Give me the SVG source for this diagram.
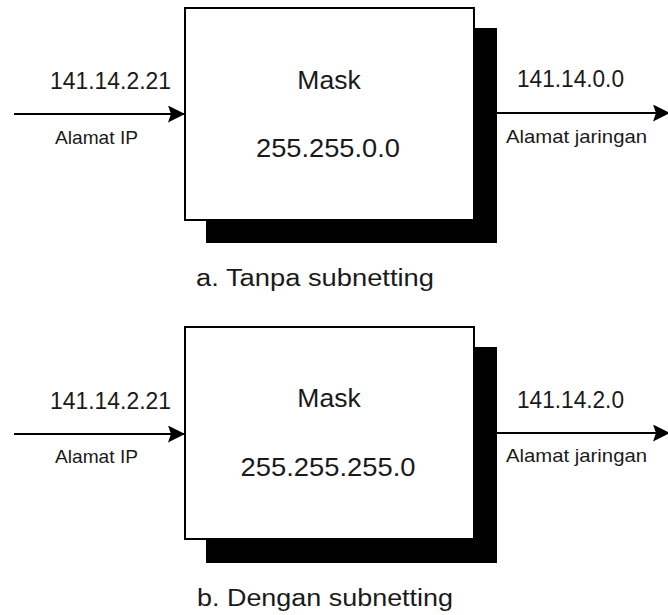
<svg xmlns="http://www.w3.org/2000/svg" width="668" height="615" viewBox="0 0 668 615">
  <defs>
    <marker id="arrow" markerWidth="17" markerHeight="17" refX="17" refY="8.5" orient="auto" markerUnits="userSpaceOnUse">
      <path d="M0,0 L17,8.5 L0,17 L3,8.5 Z" fill="#000"/>
    </marker>
    <style>
      .box { fill: #fff; stroke: #000; stroke-width: 2; }
      .shadow { fill: #000; }
      .wire { stroke: #000; stroke-width: 2.2; fill: none; }
      text { font-family: "Liberation Sans", Arial, sans-serif; fill: #1a1a1a; }
      .addr { font-size: 24.5px; }
      .lbl { font-size: 18.5px; }
      .mid { text-anchor: middle; }
      .inbox { font-size: 26.5px; }
      .cap { font-size: 23px; }
    </style>
  </defs>
  <rect width="668" height="615" fill="#fff"/>

  <!-- connectors -->
  <g id="connectors">
    <line class="wire" x1="14" y1="114" x2="185" y2="114" marker-end="url(#arrow)"/>
    <line class="wire" x1="497" y1="113" x2="670" y2="113" marker-end="url(#arrow)"/>
    <line class="wire" x1="14" y1="434" x2="185" y2="434" marker-end="url(#arrow)"/>
    <line class="wire" x1="497" y1="433" x2="670" y2="433" marker-end="url(#arrow)"/>
  </g>

  <!-- a: without subnetting -->
  <g id="mask-a">
    <rect class="shadow" x="206" y="28" width="291" height="215"/>
    <rect class="box" x="185" y="8" width="289" height="212"/>
    <text class="inbox mid" x="329" y="89">Mask</text>
    <text class="inbox mid" x="328" y="157" textLength="144" lengthAdjust="spacingAndGlyphs">255.255.0.0</text>
  </g>
  <g id="in-a">
    <text class="addr" x="50" y="89" textLength="121" lengthAdjust="spacingAndGlyphs">141.14.2.21</text>
    <text class="lbl" x="55" y="144" textLength="83" lengthAdjust="spacingAndGlyphs">Alamat IP</text>
  </g>
  <g id="out-a">
    <text class="addr" x="517" y="87" textLength="107" lengthAdjust="spacingAndGlyphs">141.14.0.0</text>
    <text class="lbl" x="506" y="143" textLength="141" lengthAdjust="spacingAndGlyphs">Alamat jaringan</text>
  </g>
  <text class="cap" x="196" y="286" textLength="238" lengthAdjust="spacingAndGlyphs">a. Tanpa subnetting</text>

  <!-- b: with subnetting -->
  <g id="mask-b">
    <rect class="shadow" x="206" y="347" width="291" height="216"/>
    <rect class="box" x="185" y="327" width="289" height="212"/>
    <text class="inbox mid" x="329" y="407">Mask</text>
    <text class="inbox mid" x="328" y="476" textLength="175" lengthAdjust="spacingAndGlyphs">255.255.255.0</text>
  </g>
  <g id="in-b">
    <text class="addr" x="50" y="409" textLength="121" lengthAdjust="spacingAndGlyphs">141.14.2.21</text>
    <text class="lbl" x="55" y="463" textLength="83" lengthAdjust="spacingAndGlyphs">Alamat IP</text>
  </g>
  <g id="out-b">
    <text class="addr" x="517" y="408" textLength="107" lengthAdjust="spacingAndGlyphs">141.14.2.0</text>
    <text class="lbl" x="506" y="462" textLength="141" lengthAdjust="spacingAndGlyphs">Alamat jaringan</text>
  </g>
  <text class="cap" x="197" y="606" textLength="256" lengthAdjust="spacingAndGlyphs">b. Dengan subnetting</text>
</svg>
